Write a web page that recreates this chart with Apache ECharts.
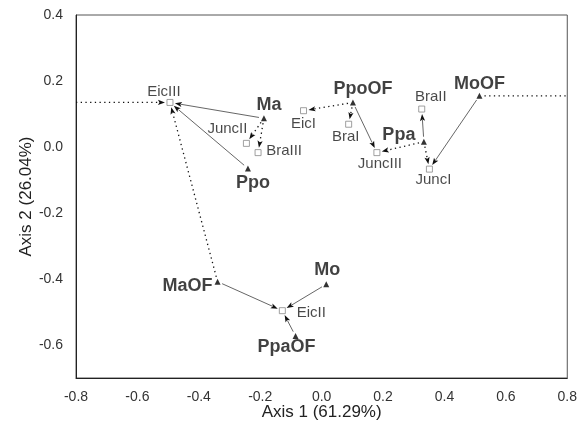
<!DOCTYPE html>
<html><head><meta charset="utf-8">
<script src="https://cdn.jsdelivr.net/npm/echarts@6/dist/echarts.min.js"></script>
<style>html,body{margin:0;padding:0;background:#fff}#c{width:580px;height:431px}</style>
</head><body><div id="c"></div>
<script>
// ---- data ----
const siteNames = ['EicI','EicII','EicIII','BraI','BraII','BraIII','JuncI','JuncII','JuncIII'];
const siteX = [-0.059,-0.128,-0.494,0.088,0.326,-0.207,0.351,-0.245,0.180];
const siteY = [0.110,-0.496,0.135,0.069,0.115,-0.017,-0.067,0.011,-0.017];
const speciesNames = ['Ma','Ppo','PpoOF','Ppa','MoOF','MaOF','Mo','PpaOF'];
const speciesX = [-0.188,-0.240,0.102,0.333,0.514,-0.339,0.015,-0.085];
const speciesY = [0.087,-0.065,0.135,0.016,0.155,-0.408,-0.416,-0.573];
const edgeFrom = ['left','Ma','Ma','Ma','Ppo','MaOF','PpoOF','PpoOF','PpoOF','Ppa','Ppa','Ppa','MoOF','MoOF','MaOF','Mo','PpaOF'];
const edgeTo = ['EicIII','EicIII','JuncII','BraIII','EicIII','EicIII','EicI','BraI','JuncIII','JuncIII','BraII','JuncI','JuncI','right','EicII','EicII','EicII'];
const edgeDotted = [1,0,1,1,0,1,1,1,0,1,0,1,0,1,0,0,0];
const xRange = [-0.8, 0.8];
const yRange = [-0.7, 0.4];
const xTitle = 'Axis 1 (61.29%)';
const yTitle = 'Axis 2 (26.04%)';

// ---- styles (label placement) ----
const siteLabelOffset = {EicI:[0,13], EicII:[29,2], EicIII:[-6,-11], BraI:[-3,13], BraII:[9,-12], BraIII:[26,-2], JuncI:[4,11], JuncII:[-19,-15], JuncIII:[3,11]};
const speciesLabelOffset = {Ma:[5,-13], Ppo:[5,15], PpoOF:[10,-13], Ppa:[-25,-7], MoOF:[0,-12], MaOF:[-30,4], Mo:[1,-14], PpaOF:[-9,11]};

const FONT = '"Liberation Sans", Arial, sans-serif';

function pos(name) {
  let i = siteNames.indexOf(name);
  if (i >= 0) return [siteX[i], siteY[i]];
  i = speciesNames.indexOf(name);
  if (i >= 0) return [speciesX[i], speciesY[i]];
  return null;
}
const edgeData = edgeFrom.map((f, k) => {
  const t = edgeTo[k];
  let a = pos(f), b = pos(t);
  if (f === 'left') a = [xRange[0], b[1]];
  if (t === 'right') b = [xRange[1], a[1]];
  return [a[0], a[1], b[0], b[1]];
});

const chart = echarts.init(document.getElementById('c'), null, {renderer: 'canvas'});
chart.setOption({
  animation: false,
  backgroundColor: '#fff',
  grid: {left: 76, right: 12, top: 15, bottom: 53, show: true, borderColor: '#555', borderWidth: 1},
  xAxis: {
    type: 'value', min: xRange[0], max: xRange[1], interval: 0.2,
    axisLine: {show: true, onZero: false, lineStyle: {color: '#222', width: 1}},
    axisTick: {show: false}, splitLine: {show: false},
    axisLabel: {formatter: v => (Math.abs(v) < 1e-9 ? '0.0' : v.toFixed(1)), fontSize: 14, color: '#333', margin: 12, fontFamily: FONT, showMinLabel: true, showMaxLabel: true},
    name: xTitle, nameLocation: 'middle', nameGap: 26, nameMoveOverlap: false,
    nameTextStyle: {fontSize: 17, color: '#222', fontFamily: FONT}
  },
  yAxis: {
    type: 'value', min: yRange[0], max: yRange[1], interval: 0.1,
    axisLine: {show: true, onZero: false, lineStyle: {color: '#222', width: 1}},
    axisTick: {show: false}, splitLine: {show: false},
    axisLabel: {formatter: v => { const r = Math.round(v * 10); if (r % 2 !== 0) return ''; return Math.abs(v) < 1e-9 ? '0.0' : v.toFixed(1); }, fontSize: 14, color: '#333', margin: 13, fontFamily: FONT, showMinLabel: true, showMaxLabel: true},
    name: yTitle, nameLocation: 'middle', nameGap: 41, nameMoveOverlap: false,
    nameTextStyle: {fontSize: 17, color: '#222', fontFamily: FONT}
  },
  series: [
    {
      type: 'custom', coordinateSystem: 'cartesian2d', clip: false, z: 2,
      encode: {x: [0, 2], y: [1, 3]},
      data: edgeData,
      renderItem: function (params, api) {
        const k = params.dataIndex;
        const p1 = api.coord([api.value(0), api.value(1)]);
        const p2 = api.coord([api.value(2), api.value(3)]);
        const dx = p2[0] - p1[0], dy = p2[1] - p1[1];
        const len = Math.sqrt(dx * dx + dy * dy) || 1;
        const ux = dx / len, uy = dy / len;
        const g0 = edgeFrom[k] === 'left' ? 0 : 5;
        const g1 = edgeTo[k] === 'right' ? 0 : 5;
        const s = [p1[0] + ux * g0, p1[1] + uy * g0];
        const e = [p2[0] - ux * g1, p2[1] - uy * g1];
        const dotted = edgeDotted[k] === 1;
        const arrow = edgeTo[k] !== 'right';
        const children = [];
        const AL = 7, AW = 2.6;
        const lineEnd = arrow ? [e[0] - ux * (AL - 1), e[1] - uy * (AL - 1)] : e;
        children.push({
          type: 'line',
          shape: {x1: s[0], y1: s[1], x2: lineEnd[0], y2: lineEnd[1]},
          style: dotted ? {stroke: '#111', lineWidth: 1.3, lineDash: [1.3, 3.4]} : {stroke: '#555', lineWidth: 0.9}
        });
        if (arrow) {
          const bx = e[0] - ux * AL, by = e[1] - uy * AL;
          children.push({
            type: 'polygon',
            shape: {points: [[e[0], e[1]], [bx - uy * AW, by + ux * AW], [bx + ux * 1.5, by + uy * 1.5], [bx + uy * AW, by - ux * AW]]},
            style: {fill: '#111'}
          });
        }
        return {type: 'group', children: children};
      }
    },
    {
      type: 'scatter', z: 3,
      symbol: 'rect', symbolSize: 6,
      itemStyle: {color: '#fff', borderColor: '#888', borderWidth: 1},
      data: siteNames.map((n, i) => ({
        name: n, value: [siteX[i], siteY[i]],
        label: {offset: siteLabelOffset[n]}
      })),
      label: {show: true, position: 'inside', formatter: '{b}', align: 'center', verticalAlign: 'middle', fontSize: 15, color: '#1a1a1a', fontFamily: FONT},
      emphasis: {disabled: true}
    },
    {
      type: 'scatter', z: 4,
      symbol: 'triangle', symbolSize: [6, 6],
      itemStyle: {color: '#000'},
      data: speciesNames.map((n, i) => ({
        name: n, value: [speciesX[i], speciesY[i]],
        label: {offset: speciesLabelOffset[n]}
      })),
      label: {show: true, position: 'inside', formatter: '{b}', align: 'center', verticalAlign: 'middle', fontSize: 18, fontWeight: 'bold', color: '#111', fontFamily: FONT},
      emphasis: {disabled: true}
    }
  ]
});
</script>
</body></html>
